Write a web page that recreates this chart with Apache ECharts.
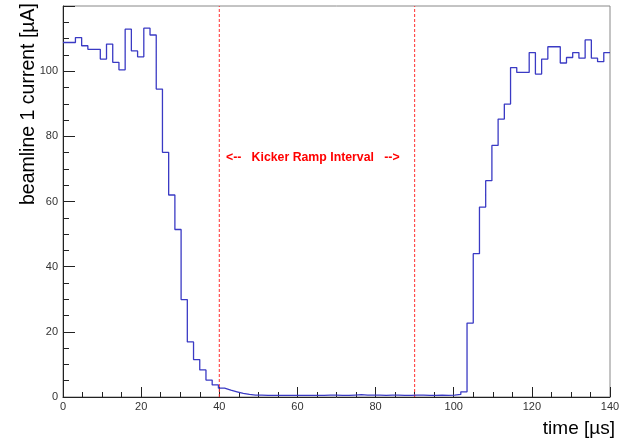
<!DOCTYPE html>
<html>
<head>
<meta charset="utf-8">
<script src="https://cdn.jsdelivr.net/npm/echarts@6/dist/echarts.min.js"></script>
<style>
html, body { margin: 0; padding: 0; background: #fff; }
#main { width: 635px; height: 443px; }
</style>
</head>
<body>
<div id="main"></div>
<script>
// histogram: 88 bins from 0 to 140 us
var xMin = 0;
var xMax = 140;
var nBins = 88;
var current = [
    108.8, 108.8, 110.3, 107.8, 106.7, 106.7, 103.7, 108.3, 102.7, 100.4,
    112.9, 106.2, 104.4, 113.2, 111.1, 94.5, 75.1, 62.0, 51.4, 29.9,
    16.9, 11.5, 8.3, 5.2, 3.7, 2.7, 2.1, 1.6, 1.1, 0.8,
    0.6, 0.6, 0.5, 0.5, 0.5, 0.5, 0.5, 0.5, 0.5, 0.5,
    0.5, 0.5, 0.6, 0.6, 0.5, 0.5, 0.6, 0.7, 0.6, 0.6,
    0.6, 0.5, 0.6, 0.6, 0.5, 0.5, 0.6, 0.6, 0.5, 0.5,
    0.6, 0.5, 0.6, 0.8,
    1.6, 22.7, 44.0, 58.3, 66.4, 77.2, 85.3, 89.9, 101.1, 99.6,
    99.6, 105.7, 99.1, 103.7, 107.5, 107.5, 102.5, 104.2, 105.7, 104.0,
    109.6, 104.0, 102.9, 105.7
];
var kickerLines = [40, 90];
var yTop = 120;
var kickerText = '<--   Kicker Ramp Interval   -->';
var xTitle = 'time [\u00b5s]';
var yTitle = 'beamline 1 current [\u00b5A]';

var binWidth = (xMax - xMin) / nBins;
var points = [];
for (var i = 0; i < current.length; i++) {
    points.push([xMin + i * binWidth, current[i]]);
}
points.push([xMax, current[current.length - 1]]);

var series = [
    {
        type: 'line',
        step: 'end',
        data: points,
        symbol: 'none',
        lineStyle: { color: '#3a3ac4', width: 1.3 },
        z: 3
    }
];
// dashed red markers for the kicker ramp
kickerLines.forEach(function (x) {
    series.push({
        type: 'line',
        data: [[x, 0], [x, yTop]],
        symbol: 'none',
        silent: true,
        lineStyle: { color: '#ff3030', type: [3, 2], width: 1 },
        z: 2
    });
});

var myChart = echarts.init(document.getElementById('main'));

var option = {
    animation: false,
    backgroundColor: '#fff',
    grid: {
        left: 63, right: 25, top: 6, bottom: 46,
        show: true, borderColor: '#888', borderWidth: 1
    },
    xAxis: {
        type: 'value',
        min: xMin, max: xMax, interval: 20,
        axisLine: { lineStyle: { color: '#222', width: 1 } },
        axisTick: { inside: true, length: 10, lineStyle: { color: '#222' } },
        minorTick: { show: true, splitNumber: 4, length: 5, lineStyle: { color: '#222' } },
        axisLabel: { color: '#333', fontSize: 11, fontFamily: 'Liberation Sans', margin: 4 },
        splitLine: { show: false }
    },
    yAxis: {
        type: 'value',
        min: 0, max: yTop, interval: 20,
        axisLine: { lineStyle: { color: '#222', width: 1 } },
        axisTick: { inside: true, length: 12, lineStyle: { color: '#222' } },
        minorTick: { show: true, splitNumber: 4, length: 6, lineStyle: { color: '#222' } },
        axisLabel: {
            color: '#333', fontSize: 11, fontFamily: 'Liberation Sans', margin: 5,
            formatter: function (v) { return v > 100 ? '' : v; }
        },
        splitLine: { show: false }
    },
    graphic: [
        {
            type: 'text',
            x: 226, y: 152,
            style: {
                text: kickerText, fill: '#ff0000',
                font: 'bold 12.3px "Liberation Sans"'
            }
        },
        {
            type: 'text',
            right: 20, top: 419,
            style: { text: xTitle, fill: '#000', font: '19px "Liberation Sans"' }
        },
        {
            type: 'text',
            x: 19, y: 3,
            rotation: Math.PI / 2,
            style: {
                text: yTitle, fill: '#000', font: '19.5px "Liberation Sans"',
                align: 'right', verticalAlign: 'top'
            }
        }
    ],
    series: series
};

myChart.setOption(option);
</script>
</body>
</html>
